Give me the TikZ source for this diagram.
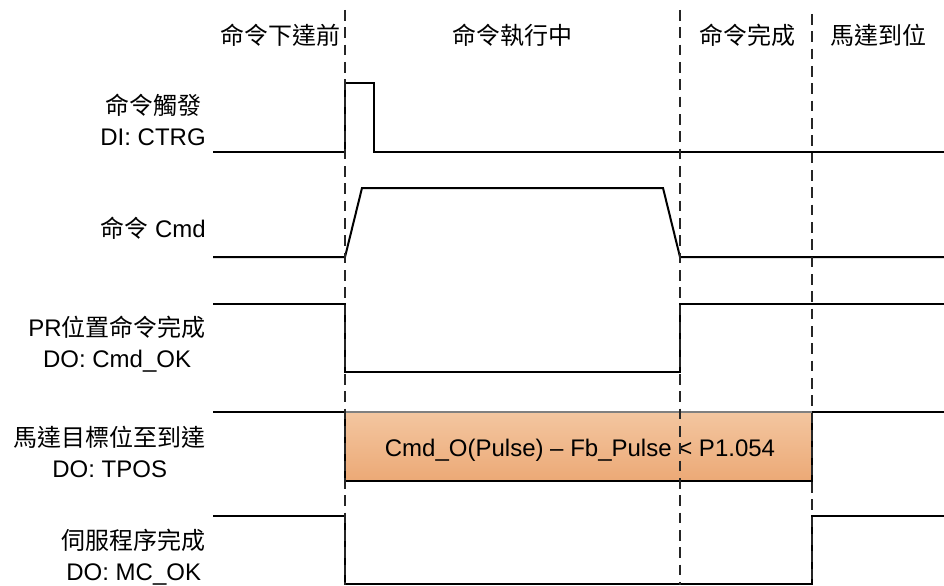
\documentclass[tikz,border=0pt]{standalone}
\usepackage{fontspec}
\setmainfont{Liberation Sans}
\newfontfamily\cjk{Noto Sans CJK TC}
\usetikzlibrary{positioning,calc}
\definecolor{boxtop}{RGB}{243,198,160}
\definecolor{boxbot}{RGB}{236,169,118}

\begin{document}
\begin{tikzpicture}[
    x=0.75pt, y=-0.75pt,
    every node/.style={font=\fontsize{18}{23.25}\selectfont, inner sep=0pt},
    signal/.style={line width=1.5pt, line join=miter},
    phase/.style={line width=1.1pt, dash pattern=on 8pt off 5pt, black!85},
    siglabel/.style={anchor=base east, align=center},
    header/.style={anchor=base},
    window/.style={top color=boxtop, bottom color=boxbot}
]
\useasboundingbox (0,0) rectangle (944,585);
% phase titles
\node[header] (before) at (280,45) {\cjk 命令下達前};
\node[header] (running) at (512,45) {\cjk 命令執行中};
\node[header] (done) at (747,45) {\cjk 命令完成};
\node[header] (arrived) at (878,45) {\cjk 馬達到位};
% signal names
\node[siglabel] (ctrg) at (206,145) {{\cjk 命令觸發}\\DI: CTRG};
\node[siglabel] (cmd) at (206,237) {{\cjk 命令} Cmd};
\node[siglabel] (cmdok) at (206,367) {PR{\cjk 位置命令完成}\\DO: Cmd\_OK};
\node[siglabel] (tpos) at (206,477) {{\cjk 馬達目標位至到達}\\DO: TPOS};
\node[siglabel] (mcok) at (206,580) {{\cjk 伺服程序完成}\\DO: MC\_OK};
% waveforms
\draw[signal] (213,152) -- (345,152) -- (345,83) -- (374,83) -- (374,152) -- (944,152);
\draw[signal] (213,257) -- (345,257) -- (362,188) -- (663,188) -- (680,257) -- (944,257);
\draw[signal] (213,304) -- (345,304) -- (345,372) -- (680,372) -- (680,304) -- (944,304);
\shade[window] (345,412) rectangle (812,481);
\draw[signal] (213,412) -- (345,412) -- (345,481) -- (812,481) -- (812,412) -- (944,412);
\draw[line width=1pt, black!50] (345,412) -- (812,412);
\node[anchor=base] (gap) at (580,456) {Cmd\_O(Pulse) -- Fb\_Pulse < P1.054};
\draw[signal] (213,516) -- (345,516) -- (345,584) -- (812,584) -- (812,516) -- (944,516);
% phase borders
\foreach \x/\y in {345/10, 680/10, 812/14}
  \draw[phase] (\x,\y) -- (\x,585);
\end{tikzpicture}
\end{document}
